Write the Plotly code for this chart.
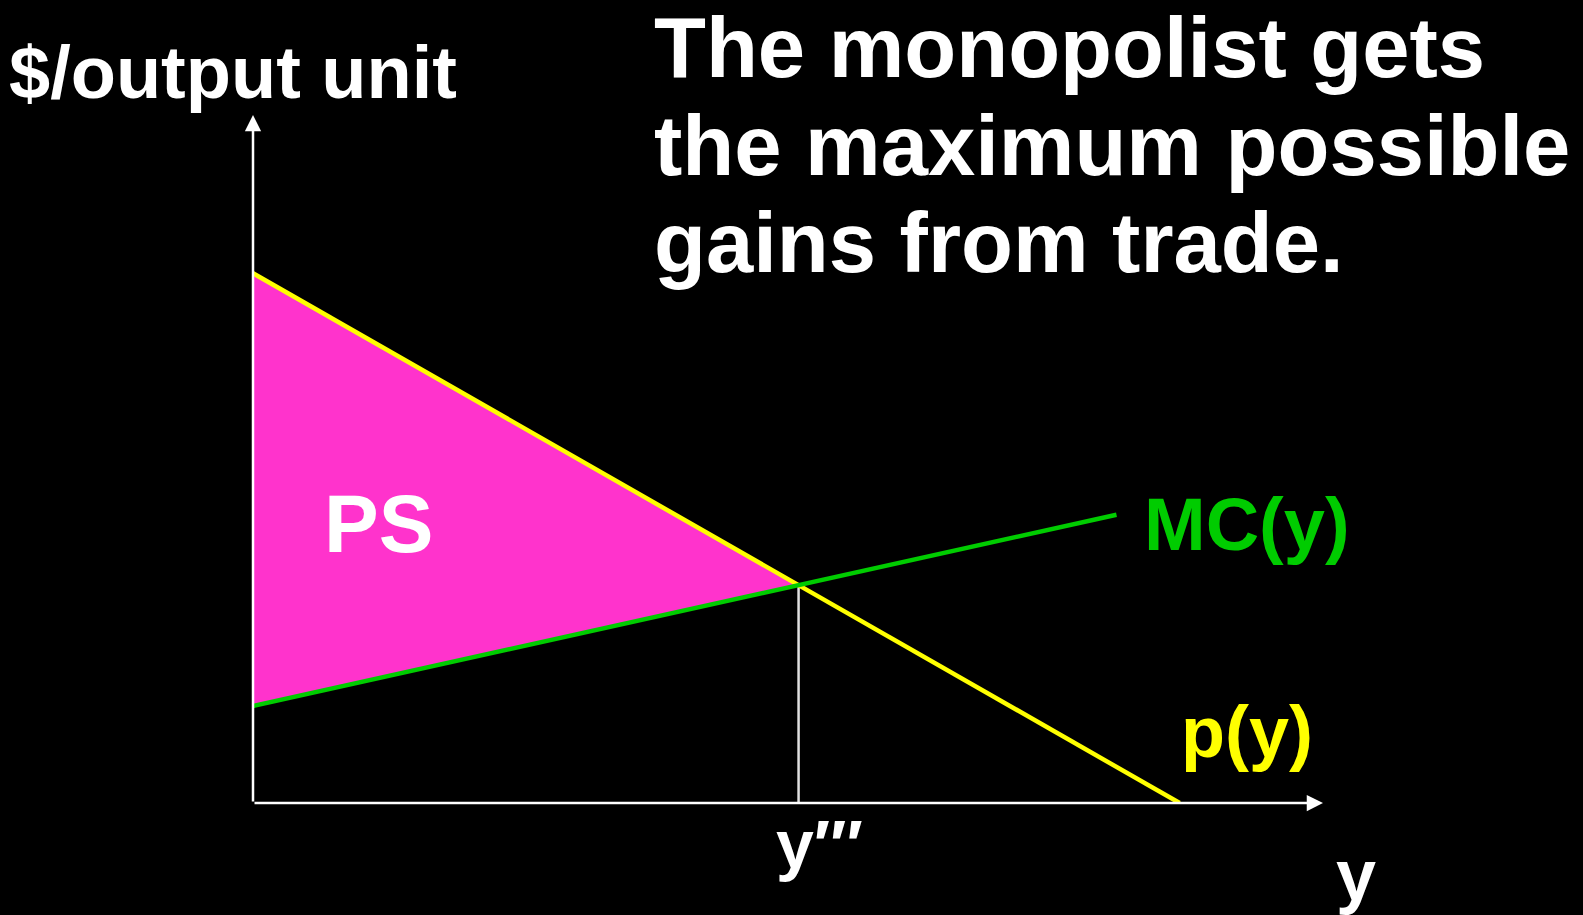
import plotly.graph_objects as go

# ---- data (chart units) ----
demand_x = [0.0, 8.66]      # p(y) endpoints
demand_y = [7.70, 0.0]
mc_x = [0.0, 8.07]          # MC(y) endpoints
mc_y = [1.41, 4.19]
axis_max_x = 10.0
axis_max_y = 10.0
labels = {"demand": "p(y)", "mc": "MC(y)", "qty": "y\u2032\u2032\u2032", "area": "PS"}

# intersection of the two lines
bd = (demand_y[1] - demand_y[0]) / (demand_x[1] - demand_x[0])
bm = (mc_y[1] - mc_y[0]) / (mc_x[1] - mc_x[0])
x_star = (mc_y[0] - demand_y[0]) / (bd - bm)
p_star = demand_y[0] + bd * x_star

W, H = 1583, 915
L, R, T, B = 253, 1323, 115, 803  # plot area in pixels


def px(x):
    return (x - L) / (R - L)


def py(y):
    return (B - y) / (B - T)


FONT = "Liberation Sans, Arial, sans-serif"

fig = go.Figure()

# PS area
fig.add_trace(go.Scatter(
    x=[0, x_star, 0, 0], y=[demand_y[0], p_star, mc_y[0], demand_y[0]],
    mode="lines", fill="toself", fillcolor="#FF33CC",
    line=dict(width=0), hoverinfo="skip", showlegend=False))

# vertical line at y'''
fig.add_trace(go.Scatter(
    x=[x_star, x_star], y=[0, p_star], mode="lines",
    line=dict(color="#E0E0E0", width=2.5), showlegend=False, hoverinfo="skip"))

# demand p(y)
fig.add_trace(go.Scatter(
    x=demand_x, y=demand_y, mode="lines",
    line=dict(color="#FFFF00", width=4.5), showlegend=False))

# MC(y)
fig.add_trace(go.Scatter(
    x=mc_x, y=mc_y, mode="lines",
    line=dict(color="#00CC00", width=4.5), showlegend=False))

annotations = []
# axes arrows
annotations.append(dict(x=axis_max_x, y=0, ax=0, ay=0, xref="x", yref="y",
                        axref="x", ayref="y", showarrow=True, arrowhead=2,
                        arrowsize=1.3, arrowwidth=2.5, arrowcolor="white", text=""))
annotations.append(dict(x=0, y=axis_max_y, ax=0, ay=0, xref="x", yref="y",
                        axref="x", ayref="y", showarrow=True, arrowhead=2,
                        arrowsize=1.3, arrowwidth=2.5, arrowcolor="white", text=""))


def text(t, left, baseline, size, color="white"):
    annotations.append(dict(
        text="<b>%s</b>" % t, x=px(left), y=py(baseline - 0.3465 * size),
        xref="paper", yref="paper", xanchor="left", yanchor="middle",
        showarrow=False, borderpad=0,
        font=dict(family=FONT, size=size, color=color)))


text("$/output unit", 8, 98, 74)
text("The monopolist gets", 653, 77, 85)
text("the maximum possible", 653, 175, 85)
text("gains from trade.", 653, 272, 85)
text(labels["area"], 323, 552, 82)
text(labels["mc"], 1143, 550, 74, "#00CC00")
text(labels["demand"], 1180, 757, 72, "#FFFF00")
text(labels["qty"], 775, 868, 68)
text("y", 1335, 900, 72)

fig.update_layout(
    width=W, height=H,
    paper_bgcolor="black", plot_bgcolor="black",
    margin=dict(l=L, r=W - R, t=T, b=H - B, pad=0),
    xaxis=dict(range=[0, axis_max_x], visible=False, fixedrange=True),
    yaxis=dict(range=[0, axis_max_y], visible=False, fixedrange=True),
    annotations=annotations,
    showlegend=False,
)

fig.write_html(
    "out.html",
    config={"displayModeBar": False},
    post_script="document.body.style.margin='0';document.body.style.background='black';",
)
